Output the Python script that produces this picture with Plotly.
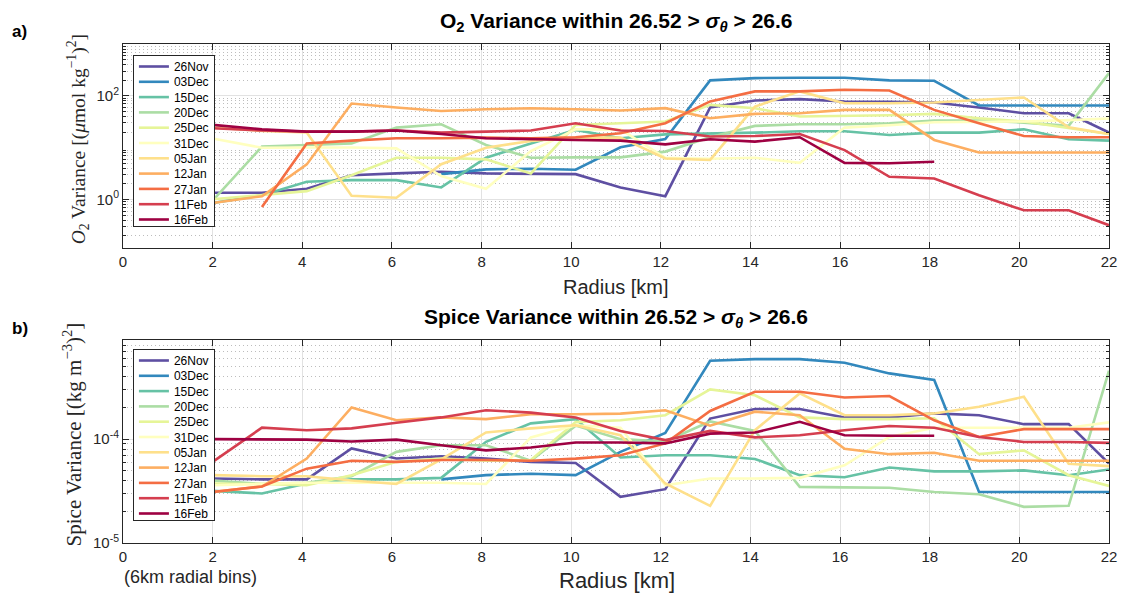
import plotly.graph_objects as go

# Radial bin centres [km]
radius = [2.0, 3.1, 4.1, 5.1, 6.1, 7.1, 8.1, 9.1, 10.1, 11.1, 12.1,
          13.1, 14.1, 15.1, 16.1, 17.1, 18.1, 19.1, 20.1, 21.1, 22.0]

dates = ["26Nov", "03Dec", "15Dec", "20Dec", "25Dec", "31Dec",
         "05Jan", "12Jan", "27Jan", "11Feb", "16Feb"]

colors = ["#5e4fa2", "#3288bd", "#66c2a5", "#abdda4", "#e6f598", "#ffffbf",
          "#fee08b", "#fdae61", "#f46d43", "#d53e4f", "#9e0142"]

# O2 variance [(umol/kg)^2]
o2_26nov = [1.35, 1.35, 1.61, 2.95, 3.19, 3.44, 3.19, 3.19, 3.09, 1.71, 1.16,
            59.6, 81.5, 86.3, 78, 76.5, 74.5, 59.6, 46.2, 46.2, 19.6]
o2_03dec = [None, None, None, None, None, 3.09, 3.81, 3.93, 3.76, 10.2, 14.7,
            199, 220, 223, 223, 199, 195, 65.2, 65.2, 65.2, 65.2]
o2_15dec = [0.86, 1.21, 2.20, 2.37, 2.37, 1.71, 6.41, 12.1, 22.0, 15.2, 18.1,
            18.7, 19.5, 20.7, 20.7, 17.6, 19.5, 19.5, 22.6, 14.5, 13.7]
o2_20dec = [0.95, 10.5, 11.3, 12.1, 24.4, 28.3, 11.3, 6.4, 6.5, 6.5, 8.4,
            15.9, 26.3, 28.3, 28.3, 29.6, 33.4, 33.4, 30.5, 26.3, 275]
o2_25dec = [1.01, 1.21, 1.45, 2.95, 6.41, 6.41, 5.95, 3.19, 27.5, 29.6, 31.9,
            67, 57.8, 39.9, 41, 42.3, 44.9, 37, 31.9, 23.7, 18.4]
o2_31dec = [15, 10, 10.1, 10.1, 9.7, 2.83, 1.61, 8.6, 22.6, 22.6, 6.4,
            6.1, 6.4, 5.1, 24.4, 27, 31, 31.4, 32, 34, 36.5]
o2_05jan = [24.7, 21, 19.6, 1.18, 1.08, 4.8, 10, 13.5, 15.6, 15.6, 6.2,
            5.8, 62, 122, 72, 72, 74.5, 84, 93, 24.8, 18.4]
o2_12jan = [0.86, 1.16, 4.76, 71, 59.6, 51, 55, 57.8, 55, 52.3, 57.8,
            37, 44.9, 46.2, 53.6, 53.6, 14.1, 8.1, 8.1, 8.1, 8.1]
o2_27jan = [None, 0.72, 12.1, 13.7, 15.2, 15.2, 15.6, 15.2, 15.9, 19, 29.6,
            78, 122, 122, 131, 127, 53.6, 29.6, 16.8, 15.9, 15.9]
o2_11feb = [23.7, 21.4, 20.4, 20.4, 21.4, 19.5, 20.4, 21.4, 29.6, 21.4, 21,
            16.4, 16.8, 18.4, 9.0, 2.75, 2.55, 1.21, 0.62, 0.62, 0.32]
o2_16feb = [27.5, 22.6, 20.4, 20.4, 21.4, 18.4, 15.2, 14.5, 14.1, 13.7, 11.6,
            14.5, 13.1, 15.9, 5.1, 5.0, 5.37, None, None, None, None]

# Spice variance, in units of 1e-4 (kg m^-3)^2
SPICE_UNIT = 1e-4
sp_26nov = [0.418, 0.41, 0.41, 0.813, 0.651, 0.685, 0.651, 0.605, 0.59, 0.278, 0.33,
            1.58, 1.95, 1.95, 1.62, 1.62, 1.77, 1.70, 1.395, 1.395, 0.583]
sp_03dec = [None, None, None, None, None, 0.41, 0.45, 0.465, 0.45, 0.755, 1.15,
            5.69, 5.9, 5.9, 5.45, 4.3, 3.71, 0.31, 0.31, 0.31, 0.31]
sp_15dec = [0.318, 0.30, 0.374, 0.41, 0.41, 0.424, 0.943, 1.42, 1.56, 0.666, 0.70,
            0.70, 0.645, 0.45, 0.43, 0.533, 0.49, 0.49, 0.50, 0.45, 0.51]
sp_20dec = [0.40, 0.37, 0.38, 0.44, 0.755, 0.875, 0.875, 0.62, 1.35, 1.0, 0.95,
            1.48, 1.2, 0.347, 0.343, 0.34, 0.31, 0.295, 0.223, 0.228, 4.56]
sp_25dec = [0.374, 0.37, 0.36, 0.45, 0.605, 0.65, 0.62, 0.63, 1.46, 1.52, 1.70,
            3.01, 2.65, 1.62, 1.56, 1.56, 1.59, 0.717, 0.78, 0.45, 0.355]
sp_31dec = [0.36, 0.37, 0.38, 0.38, 0.38, 0.38, 0.37, 1.04, 1.36, 1.29, 0.36,
            0.418, 0.418, 0.424, 0.56, 1.05, 1.29, 1.29, 1.29, 1.29, 1.45]
sp_05jan = [0.45, 0.44, 0.44, 0.40, 0.37, 0.64, 1.16, 1.27, 1.36, 1.09, 0.374,
            0.228, 1.22, 2.76, 1.70, 1.70, 1.77, 2.05, 2.56, 0.58, 0.55]
sp_12jan = [0.31, 0.35, 0.65, 2.02, 1.52, 1.62, 1.56, 1.74, 1.74, 1.76, 1.9,
            1.35, 1.84, 1.70, 0.81, 0.717, 0.74, 0.62, 0.62, 0.62, 0.62]
sp_27jan = [0.31, 0.35, 0.52, 0.62, 0.605, 0.63, 0.63, 0.62, 0.65, 0.70, 0.91,
            1.87, 2.86, 2.86, 2.52, 2.6, 1.52, 1.05, 1.25, 1.25, 1.25]
sp_11feb = [0.605, 1.29, 1.22, 1.27, 1.44, 1.62, 1.9, 1.8, 1.62, 1.2, 0.98,
            1.2, 1.04, 1.09, 1.22, 1.34, 1.29, 1.05, 0.94, 0.94, 0.92]
sp_16feb = [1.0, 0.99, 0.99, 0.95, 0.99, 0.875, 0.78, 0.83, 0.93, 0.93, 0.91,
            1.13, 1.16, 1.47, 1.09, 1.08, 1.08, None, None, None, None]

o2_series = [o2_26nov, o2_03dec, o2_15dec, o2_20dec, o2_25dec, o2_31dec,
             o2_05jan, o2_12jan, o2_27jan, o2_11feb, o2_16feb]
sp_series = [sp_26nov, sp_03dec, sp_15dec, sp_20dec, sp_25dec, sp_31dec,
             sp_05jan, sp_12jan, sp_27jan, sp_11feb, sp_16feb]

SANS = "Liberation Sans, Arial, Helvetica, sans-serif"
SERIF = "Liberation Serif, Times New Roman, serif"
AXCOL = "#262626"
GRID = "#e2e2e2"
MINOR_GRID = "#bdbdbd"
LW = 2.6

fig = go.Figure()
for name, col, vals in zip(dates, colors, o2_series):
    fig.add_trace(go.Scatter(x=radius, y=vals, mode="lines", name=name,
                             line=dict(color=col, width=LW),
                             xaxis="x", yaxis="y", legend="legend"))
for name, col, vals in zip(dates, colors, sp_series):
    yv = [None if v is None else v * SPICE_UNIT for v in vals]
    fig.add_trace(go.Scatter(x=radius, y=yv, mode="lines", name=name,
                             line=dict(color=col, width=LW),
                             xaxis="x2", yaxis="y2", legend="legend2"))

W, H = 1128, 597
ML, MR, MT, MB = 123, 11, 44, 54
PW, PH = W - ML - MR, H - MT - MB


def px(xp):
    return (xp - ML) / PW


def py(yp):
    return (H - MB - yp) / PH


xcommon = dict(range=[0, 22], tickvals=list(range(0, 23, 2)),
               ticks="inside", ticklen=6, tickcolor=AXCOL, mirror="allticks",
               showline=True, linecolor=AXCOL, linewidth=1,
               showgrid=True, gridcolor=GRID, gridwidth=1, zeroline=False,
               tickfont=dict(family=SANS, size=15, color=AXCOL))

o2_minor = [k * 10.0 ** d for d in range(-1, 3) for k in range(2, 10)]
sp_minor = [k * 10.0 ** d for d in range(-5, -3) for k in range(2, 10)]

ycommon = dict(type="log", ticks="inside", ticklen=6, tickcolor=AXCOL,
               mirror="allticks", showline=True, linecolor=AXCOL, linewidth=1,
               showgrid=True, gridcolor=GRID, gridwidth=1, zeroline=False,
               tickfont=dict(family=SANS, size=15, color=AXCOL))

minor_style = dict(ticks="inside", ticklen=3, tickcolor=AXCOL, showgrid=True,
                   gridcolor=MINOR_GRID, griddash="1px,3px", gridwidth=1)

fig.update_layout(
    width=W, height=H,
    margin=dict(l=ML, r=MR, t=MT, b=MB),
    paper_bgcolor="white", plot_bgcolor="white",
    xaxis=dict(domain=[0, 1], anchor="y", **xcommon),
    xaxis2=dict(domain=[0, 1], anchor="y2", **xcommon),
    yaxis=dict(domain=[py(248), 1], anchor="x", range=[-0.935, 3.0],
               tickvals=[1, 100], ticktext=["10<sup>0</sup>", "10<sup>2</sup>"],
               minor=dict(tickvals=o2_minor, **minor_style),
               **ycommon),
    yaxis2=dict(domain=[0, py(340)], anchor="x2", range=[-5, -3.045],
                tickvals=[1e-5, 1e-4], ticktext=["10<sup>-5</sup>", "10<sup>-4</sup>"],
                minor=dict(tickvals=sp_minor, **minor_style),
                **ycommon),
    legend=dict(x=px(133), y=py(55), xanchor="left", yanchor="top",
                bgcolor="white", bordercolor=AXCOL, borderwidth=1,
                font=dict(family=SANS, size=12, color="#000000"),
                itemwidth=30, tracegroupgap=0),
    legend2=dict(x=px(133), y=py(349), xanchor="left", yanchor="top",
                 bgcolor="white", bordercolor=AXCOL, borderwidth=1,
                 font=dict(family=SANS, size=12, color="#000000"),
                 itemwidth=30, tracegroupgap=0),
    showlegend=True,
)


def label(text, xp, yp, size, family=SANS, color=AXCOL, angle=0, xanchor="center"):
    return dict(text=text, x=px(xp), y=py(yp), xref="paper", yref="paper",
                xanchor=xanchor, yanchor="middle", showarrow=False, textangle=angle,
                font=dict(family=family, size=size, color=color))


ann = [
    label("<b>O<sub>2</sub> Variance within 26.52 &gt; <i>σ<sub>θ</sub></i> &gt; 26.6</b>",
          620, 22, 21, color="#000000"),
    label("<b>Spice Variance within 26.52 &gt; <i>σ<sub>θ</sub></i> &gt; 26.6</b>",
          620, 318, 21, color="#000000"),
    label("<b>a)</b>", 9, 32, 17, color="#000000", xanchor="left"),
    label("<b>b)</b>", 9, 328, 17, color="#000000", xanchor="left"),
    label("Radius [km]", 620, 287, 20),
    label("Radius [km]", 621, 580, 22),
    label("(6km radial bins)", 122, 577, 18, xanchor="left"),
    label("<i>O</i><sub>2</sub> Variance [(<i>μ</i>mol kg<sup>−1</sup>)<sup>2</sup>]",
          77, 139, 19.5, family=SERIF, angle=-90),
    label("Spice Variance [(kg m<sup>−3</sup>)<sup>2</sup>]",
          72, 434, 21, family=SERIF, angle=-90),
]
fig.update_layout(annotations=ann)

# Tighten the legend rows so each box matches the compact entry spacing
legend_js = """
var gd = document.getElementById('{plot_id}');
var step = 15.3;
['legend', 'legend2'].forEach(function (cls) {
  var lg = gd.querySelector('g.' + cls);
  if (!lg) { return; }
  var items = lg.querySelectorAll('g.traces');
  var y0 = null;
  items.forEach(function (it, i) {
    var m = /translate\\(([-\\d.e]+)[ ,]+([-\\d.e]+)\\)/.exec(it.getAttribute('transform') || '');
    if (!m) { return; }
    if (y0 === null) { y0 = parseFloat(m[2]) - 4; }
    it.setAttribute('transform', 'translate(' + m[1] + ',' + (y0 + i * step) + ')');
  });
  var sb = lg.querySelector('g.scrollbox');
  if (sb) { sb.removeAttribute('clip-path'); }
  var h = (items.length - 1) * step + 18;
  lg.querySelectorAll('rect.bg').forEach(function (r) { r.setAttribute('height', h); });
});
"""

fig.write_html("out.html", post_script=legend_js)
